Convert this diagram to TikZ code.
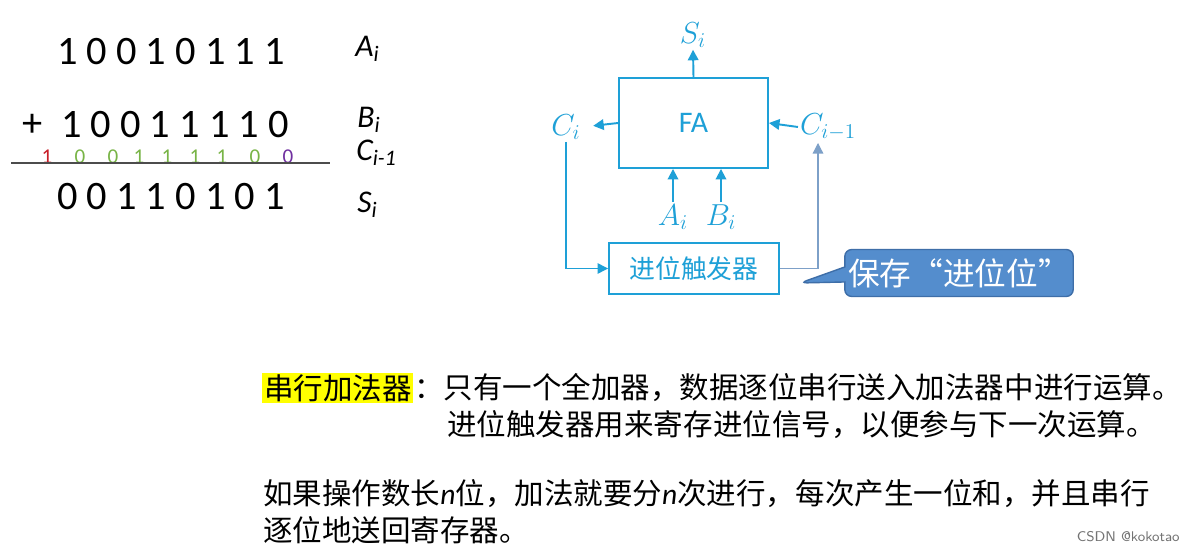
\documentclass[tikz,border=0pt]{standalone}
\usepackage{fontspec}
\setmainfont{Carlito}
\newfontfamily\cjk{Noto Sans CJK SC}
\usetikzlibrary{positioning}
\usetikzlibrary{shapes.callouts}
\usetikzlibrary{arrows.meta}
\definecolor{wire}{RGB}{30,160,215}
\definecolor{wirelight}{RGB}{125,160,200}
\definecolor{bubble}{RGB}{84,141,205}
\definecolor{bubbleedge}{RGB}{62,110,168}
\definecolor{carryred}{RGB}{200,30,40}
\definecolor{carrygreen}{RGB}{120,180,70}
\definecolor{carrypurple}{RGB}{112,48,160}
\definecolor{mark}{RGB}{255,255,0}

\tikzset{
  bits/.style={font=\fontsize{23}{25}\selectfont, inner sep=0pt},
  rowlabel/.style={font=\fontsize{18}{20}\selectfont\itshape, anchor=west, inner sep=0pt},
  carry/.style={font=\fontsize{12}{14}\selectfont, inner sep=0pt},
  block/.style={draw=wire, line width=1.1pt, text=wire},
  sig/.style={text=wire, font=\fontsize{17}{19}\selectfont, inner sep=1pt},
  wireto/.style={draw=wire, line width=1.1pt, -{Triangle[length=6pt,width=6pt]}},
  loopwire/.style={draw=wire, line width=0.7pt, -{Triangle[length=6pt,width=6pt]}},
  note/.style={font=\cjk\fontsize{16.8}{20}\selectfont, anchor=west, inner sep=0pt},
}

\begin{document}
\begin{tikzpicture}[x=0.02cm, y=-0.02cm]
    \useasboundingbox[fill=white] (0,0) rectangle (1187,550);

    % the worked addition
    \node[bits] (arow) at (171,52) {1 0 0 1 0 1 1 1};
    \node[bits] (plus) at (33,125) {+};
    \node[bits] (brow) at (175,125) {1 0 0 1 1 1 1 0};
    \node[bits] (srow) at (171,197) {0 0 1 1 0 1 0 1};
    \foreach \xx/\dd/\cc in {47/1/carryred, 80/0/carrygreen, 113/0/carrygreen,
        139/1/carrygreen, 167/1/carrygreen, 195/1/carrygreen, 222/1/carrygreen,
        255/0/carrygreen, 288/0/carrypurple}
        \node[carry, text=\cc] (c\xx) at (\xx,157) {\dd};
    \draw[color=black!70, line width=0.8pt] (11,163) -- (330,163);

    \node[rowlabel] (alab) at (355,49) {A\textsubscript{i}};
    \node[rowlabel] (blab) at (357,120) {B\textsubscript{i}};
    \node[rowlabel] (clab) at (356,153) {C\textsubscript{i-1}};
    \node[rowlabel] (slab) at (357,205) {S\textsubscript{i}};

    % serial adder
    \node[block, minimum width=2.98cm, minimum height=1.8cm,
          font=\fontsize{17}{19}\selectfont] (fa) at (693.5,123) {FA};
    \node[block, minimum width=3.4cm, minimum height=1.02cm,
          font=\cjk\fontsize{14.7}{17}\selectfont] (ff) at (694,268.5) {进位触发器};

    \node[sig] (si) at (693,35) {$S_i$};
    \node[sig] (ci) at (566,127) {$C_i$};
    \node[sig] (cim) at (828,127) {$C_{i-1}$};
    \node[sig] (ai) at (673,217) {$A_i$};
    \node[sig] (bi) at (721,217) {$B_i$};
    \coordinate (back) at (818,143);

    \draw[wireto] (fa.north) -- (si.south);
    \draw[wireto, shorten >=6pt] (fa.west) -- (ci.east);
    \draw[wireto] (cim.west) -- (fa.east);
    \draw[wireto] (ai.north) -- (ai.north |- fa.south);
    \draw[wireto] (bi.north) -- (bi.north |- fa.south);
    \draw[loopwire] (ci.south) |- (ff.west);
    \draw[loopwire, draw=wirelight] (ff.east) -| (back);

    \node[rectangle callout, rounded corners=4pt, fill=bubble, draw=bubbleedge,
          line width=0.8pt, text=white, minimum width=4.44cm, minimum height=0.94cm,
          inner xsep=2pt, callout absolute pointer={(800,283)}, callout pointer width=0.3cm,
          font=\cjk\fontsize{18}{21}\selectfont] (keep) at (959,273) {保存“进位位”};

    % notes
    \node[note, fill=mark, inner sep=1pt] (title) at (262,388) {串行加法器};
    \node[note, anchor=west] (line1) at (title.east) {：只有一个全加器，数据逐位串行送入加法器中进行运算。};
    \node[note] (line2) at (447,425) {进位触发器用来寄存进位信号，以便参与下一次运算。};
    \node[note] (line3) at (263,494) {如果操作数长{\fontspec{Carlito}\itshape n}位，加法就要分{\fontspec{Carlito}\itshape n}次进行，每次产生一位和，并且串行};
    \node[note] (line4) at (263,530) {逐位地送回寄存器。};

    \node[anchor=east, text=black!55, font=\fontsize{8}{9}\selectfont\sffamily, inner sep=0pt]
        (credit) at (1180,537) {CSDN @kokotao};
\end{tikzpicture}
\end{document}
